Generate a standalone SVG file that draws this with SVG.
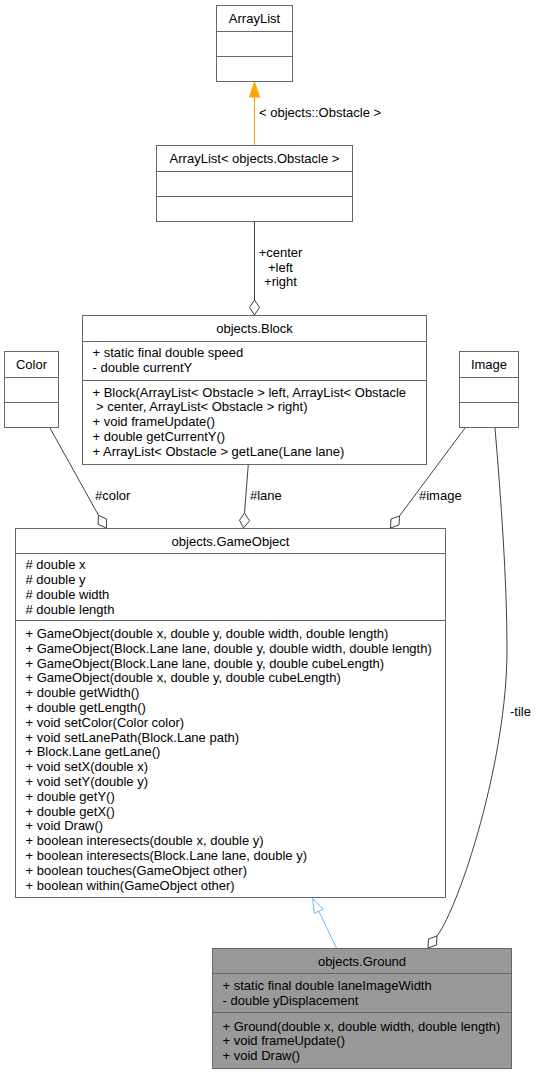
<svg xmlns="http://www.w3.org/2000/svg" width="537" height="1075" viewBox="0 0 537 1075">
<style>
text{font-family:"Liberation Sans",Arial,Helvetica,sans-serif;font-size:13px;fill:#000}
.c{text-anchor:middle}
.box{fill:#fff;stroke:#666;stroke-width:1}
.sel{fill:#999;stroke:#666;stroke-width:1}
.div{stroke:#666;stroke-width:1}
.e{fill:none;stroke:#404040;stroke-width:1}
.dia{fill:#fff;stroke:#404040;stroke-width:1}
</style>
<rect width="537" height="1075" fill="#fff"/>
<g id="connectors">
<line x1="254.5" y1="145.5" x2="254.5" y2="96" stroke="#FFA500" stroke-width="1"/>
<polygon points="254.5,82 259.5,97 249.5,97" fill="#FFA500" stroke="#FFA500"/>
<text x="259" y="117">&lt; objects::Obstacle &gt;</text>
<line class="e" x1="254.5" y1="221.5" x2="254.5" y2="300"/>
<polygon class="dia" points="254.5,300 259.5,307.5 254.5,315 249.5,307.5"/>
<text class="c" x="280.5" y="257">+center</text>
<text class="c" x="280.5" y="271.5">+left</text>
<text class="c" x="280.5" y="286">+right</text>
<line class="e" x1="50" y1="428" x2="98.5" y2="515.3"/>
<polygon class="dia" points="98.5,515.3 106.7,519.1 106.3,528.1 98.1,524.3"/>
<text x="95" y="499.5">#color</text>
<line class="e" x1="248.3" y1="464.5" x2="244.5" y2="513"/>
<polygon class="dia" points="244.5,513 249.5,520.8 243.5,528 239.5,520.2"/>
<text x="250" y="499.5">#lane</text>
<line class="e" x1="465" y1="428" x2="399.5" y2="516"/>
<polygon class="dia" points="399.5,516 399,525 390.5,528 391,519"/>
<text x="419" y="499.5">#image</text>
<path class="e" d="M495,428 C501,500 507,580 507,650 C507,760 460,905 437,936"/>
<polygon class="dia" points="437,936 436.5,945 428,948 428.5,939"/>
<text x="510" y="716">-tile</text>
<line x1="336.5" y1="948" x2="318.7" y2="911.2" stroke="#63B8FF" stroke-width="1"/>
<polygon points="312.7,898.5 323.2,909.1 314.2,913.3" fill="#fff" stroke="#63B8FF" stroke-width="1"/>
</g>
<g id="ArrayList">
<rect class="box" x="216.5" y="5.5" width="76" height="76"/>
<line class="div" x1="216.5" y1="31.5" x2="292.5" y2="31.5"/>
<line class="div" x1="216.5" y1="56.5" x2="292.5" y2="56.5"/>
<text class="c" x="254.5" y="23">ArrayList</text>
</g>
<g id="ArrayList_Obstacle">
<rect class="box" x="156.5" y="145.5" width="196" height="76"/>
<line class="div" x1="156.5" y1="171.5" x2="352.5" y2="171.5"/>
<line class="div" x1="156.5" y1="196.5" x2="352.5" y2="196.5"/>
<text class="c" x="254.5" y="163">ArrayList&lt; objects.Obstacle &gt;</text>
</g>
<g id="Block">
<rect class="box" x="82.5" y="315.5" width="344" height="149"/>
<line class="div" x1="82.5" y1="341.5" x2="426.5" y2="341.5"/>
<line class="div" x1="82.5" y1="380.5" x2="426.5" y2="380.5"/>
<text class="c" x="254.5" y="333">objects.Block</text>
<text x="92.5" y="357">+ static final double speed</text>
<text x="92.5" y="371.5">- double currentY</text>
<text x="92.5" y="396.5">+ Block(ArrayList&lt; Obstacle &gt; left, ArrayList&lt; Obstacle</text>
<text x="92.5" y="411.3" xml:space="preserve"> &gt; center, ArrayList&lt; Obstacle &gt; right)</text>
<text x="92.5" y="426.1">+ void frameUpdate()</text>
<text x="92.5" y="440.9">+ double getCurrentY()</text>
<text x="92.5" y="455.7">+ ArrayList&lt; Obstacle &gt; getLane(Lane lane)</text>
</g>
<g id="Color">
<rect class="box" x="4.5" y="351.5" width="54" height="76"/>
<line class="div" x1="4.5" y1="377.5" x2="58.5" y2="377.5"/>
<line class="div" x1="4.5" y1="402.5" x2="58.5" y2="402.5"/>
<text class="c" x="31.5" y="369">Color</text>
</g>
<g id="Image">
<rect class="box" x="459.5" y="351.5" width="59" height="76"/>
<line class="div" x1="459.5" y1="377.5" x2="518.5" y2="377.5"/>
<line class="div" x1="459.5" y1="402.5" x2="518.5" y2="402.5"/>
<text class="c" x="489" y="369">Image</text>
</g>
<g id="GameObject">
<rect class="box" x="15.5" y="528.5" width="430" height="369"/>
<line class="div" x1="15.5" y1="553.5" x2="445.5" y2="553.5"/>
<line class="div" x1="15.5" y1="620.5" x2="445.5" y2="620.5"/>
<text class="c" x="230.5" y="545.5">objects.GameObject</text>
<text x="25.5" y="569.3"># double x</text>
<text x="25.5" y="584.1"># double y</text>
<text x="25.5" y="598.9"># double width</text>
<text x="25.5" y="613.7"># double length</text>
<text x="25.5" y="638">+ GameObject(double x, double y, double width, double length)</text>
<text x="25.5" y="652.8">+ GameObject(Block.Lane lane, double y, double width, double length)</text>
<text x="25.5" y="667.6">+ GameObject(Block.Lane lane, double y, double cubeLength)</text>
<text x="25.5" y="682.4">+ GameObject(double x, double y, double cubeLength)</text>
<text x="25.5" y="697.2">+ double getWidth()</text>
<text x="25.5" y="712">+ double getLength()</text>
<text x="25.5" y="726.8">+ void setColor(Color color)</text>
<text x="25.5" y="741.6">+ void setLanePath(Block.Lane path)</text>
<text x="25.5" y="756.4">+ Block.Lane getLane()</text>
<text x="25.5" y="771.2">+ void setX(double x)</text>
<text x="25.5" y="786">+ void setY(double y)</text>
<text x="25.5" y="800.8">+ double getY()</text>
<text x="25.5" y="815.6">+ double getX()</text>
<text x="25.5" y="830.4">+ void Draw()</text>
<text x="25.5" y="845.2">+ boolean interesects(double x, double y)</text>
<text x="25.5" y="860">+ boolean interesects(Block.Lane lane, double y)</text>
<text x="25.5" y="874.8">+ boolean touches(GameObject other)</text>
<text x="25.5" y="889.6">+ boolean within(GameObject other)</text>
</g>
<g id="Ground">
<rect class="sel" x="212.5" y="948.5" width="299" height="120"/>
<line class="div" x1="212.5" y1="973.5" x2="511.5" y2="973.5"/>
<line class="div" x1="212.5" y1="1012.5" x2="511.5" y2="1012.5"/>
<text class="c" x="362" y="965.5">objects.Ground</text>
<text x="222.5" y="990.4">+ static final double laneImageWidth</text>
<text x="222.5" y="1005.2">- double yDisplacement</text>
<text x="222.5" y="1030.5">+ Ground(double x, double width, double length)</text>
<text x="222.5" y="1045.3">+ void frameUpdate()</text>
<text x="222.5" y="1060.1">+ void Draw()</text>
</g>
</svg>
